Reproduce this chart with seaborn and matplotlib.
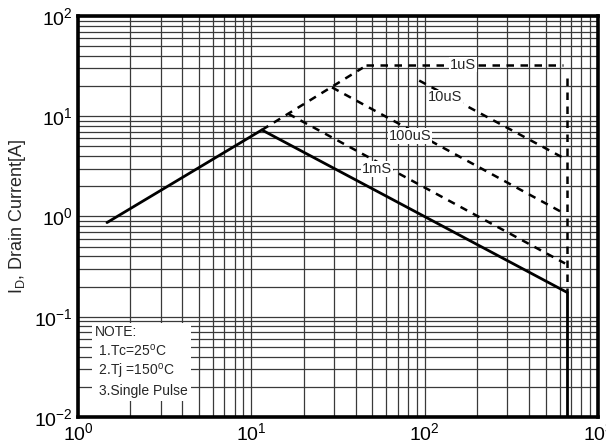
import numpy as np
import pandas as pd
import matplotlib
matplotlib.use("Agg")
import matplotlib.pyplot as plt
import matplotlib.ticker as mticker
import seaborn as sns

# Safe operating area: drain-source voltage (V) vs drain current (A)
dc_vds = [1.47, 11.5, 663]
dc_id = [0.87, 7.3, 0.175]

rise_vds = [11.5, 44.0]          # common R_DS(on) limit above the DC knee
rise_id = [7.3, 30.5]

us1_vds = [46.0, 630]
us1_id = [32.8, 32.8]

us10_vds = [93, 621]
us10_id = [22.7, 3.9]

us100_vds = [29.2, 621]
us100_id = [19.4, 1.10]

ms1_vds = [16.3, 646]
ms1_id = [10.6, 0.34]

bv_vds = [663, 663]              # breakdown voltage limit
bv_pulse_id = [23.8, 0.175]
bv_dc_id = [0.175, 0.01]

pulse_labels = ["1uS", "10uS", "100uS", "1mS"]
label_vds = [166, 131, 82.4, 53]
label_id = [32.8, 15.4, 6.4, 3.0]

sns.set_style("white")
plt.rcParams["font.family"] = ["Liberation Sans", "DejaVu Sans"]
plt.rcParams["mathtext.fontset"] = "custom"
plt.rcParams["mathtext.rm"] = "Liberation Sans"
plt.rcParams["mathtext.it"] = "Liberation Sans"
plt.rcParams["mathtext.default"] = "regular"
plt.rcParams["axes.unicode_minus"] = False

fig = plt.figure(figsize=(6.06, 4.48), dpi=100)
ax = fig.add_axes([78 / 606, (448 - 417) / 448, 520 / 606, 401 / 448])

ax.set_xscale("log")
ax.set_yscale("log")
ax.set_xlim(1, 1000)
ax.set_ylim(0.01, 100)

ax.grid(True, which="both", color="#3a3a3a", linewidth=0.9)
ax.set_axisbelow(True)


def seg(xs, ys, dashed):
    df = pd.DataFrame({"Vds": xs, "Id": ys})
    ls = (0, (3, 2.6)) if dashed else "-"
    lw = 1.8 if dashed else 2.0
    sns.lineplot(data=df, x="Vds", y="Id", ax=ax, sort=False, estimator=None,
                 color="black", linewidth=lw, linestyle=ls, zorder=3)


seg(dc_vds, dc_id, False)
seg(bv_vds, bv_dc_id, False)
seg(rise_vds, rise_id, True)
seg(us1_vds, us1_id, True)
seg(us10_vds, us10_id, True)
seg(us100_vds, us100_id, True)
seg(ms1_vds, ms1_id, True)
seg(bv_vds, bv_pulse_id, True)

for txt, xv, yv in zip(pulse_labels, label_vds, label_id):
    ax.text(xv, yv, txt, fontsize=10.5, ha="center", va="center", zorder=4,
            bbox=dict(facecolor="white", edgecolor="none", pad=0.6))

ax.text(0.033, 0.048,
        "NOTE:\n 1.Tc=25$^{o}$C\n 2.Tj =150$^{o}$C\n 3.Single Pulse",
        transform=ax.transAxes, fontsize=10, ha="left", va="bottom",
        linespacing=1.25, zorder=4,
        bbox=dict(facecolor="white", edgecolor="none", pad=2.0))

ax.set_xlabel("")
ax.set_ylabel("$I_{D}$, Drain Current[A]", fontsize=13, labelpad=4)

ax.xaxis.set_major_locator(mticker.LogLocator(base=10, numticks=10))
ax.yaxis.set_major_locator(mticker.LogLocator(base=10, numticks=10))
ax.xaxis.set_minor_locator(mticker.LogLocator(base=10, subs=np.arange(2, 10), numticks=10))
ax.yaxis.set_minor_locator(mticker.LogLocator(base=10, subs=np.arange(2, 10), numticks=10))
ax.xaxis.set_minor_formatter(mticker.NullFormatter())
ax.yaxis.set_minor_formatter(mticker.NullFormatter())

ax.tick_params(which="both", direction="in", colors="black", labelsize=14,
               top=False, right=False)
ax.tick_params(which="major", length=4, width=1.5, pad=4)
ax.tick_params(which="minor", length=3, width=1.5)

for sp in ax.spines.values():
    sp.set_color("black")
    sp.set_linewidth(2.6)

fig.savefig("out.png", dpi=100)
